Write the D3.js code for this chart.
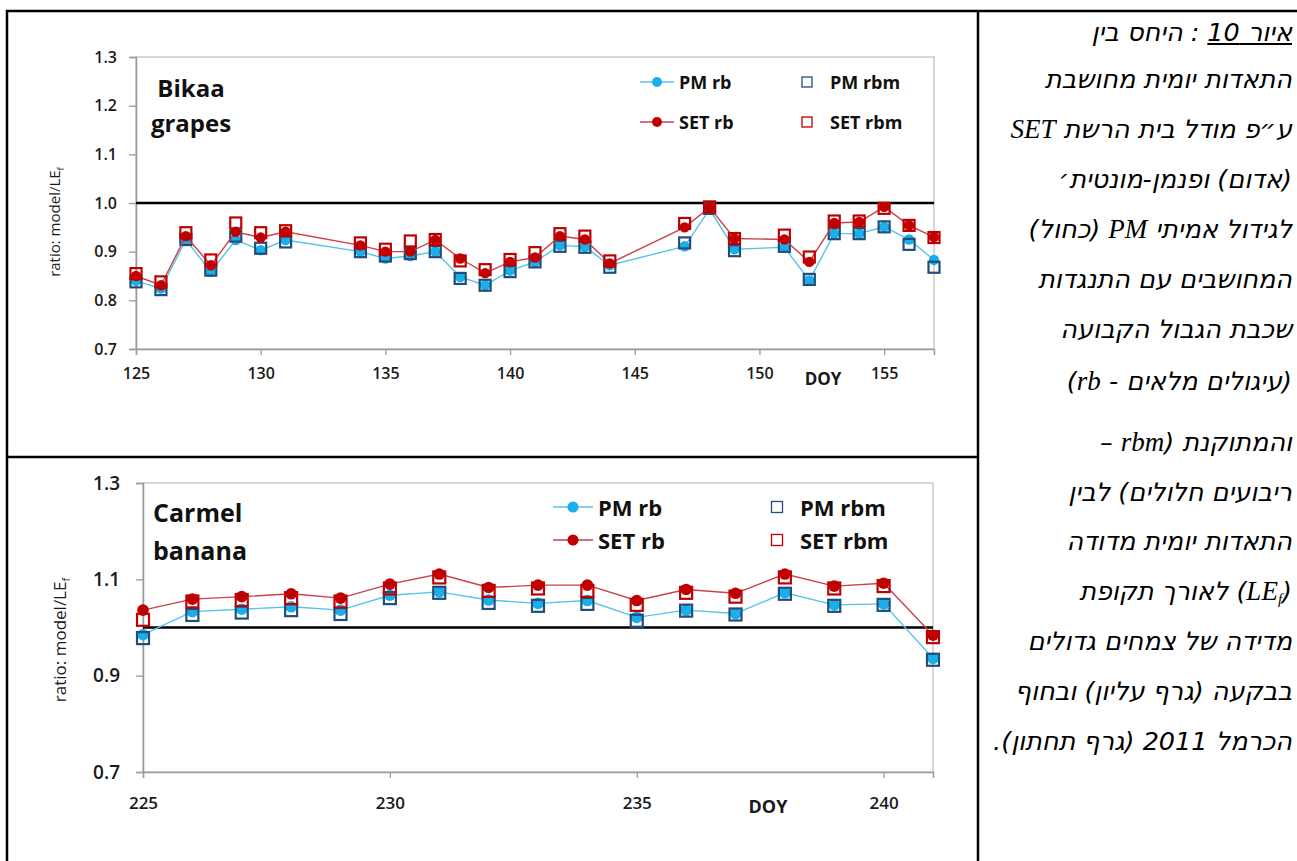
<!DOCTYPE html>
<html>
<head>
<meta charset="utf-8">
<script src="https://cdn.jsdelivr.net/npm/d3@7"></script>
<style>
  html, body { margin: 0; padding: 0; background: #fff; }
  #wrap { position: relative; width: 1297px; height: 861px; overflow: hidden; }
  svg { position: absolute; left: 0; top: 0; }
  .heb { position: absolute; right: 5px; width: 305px; direction: rtl; text-align: right;
         font-family: "DejaVu Sans", sans-serif; font-style: oblique; font-size: 25.5px;
         line-height: 32px; white-space: nowrap; color: #000; }
  .heb .lat { font-family: "Liberation Serif", serif; font-style: italic; font-size: 27px; }
  .heb sub { font-size: 15px; vertical-align: -4px; line-height: 0; }
</style>
</head>
<body>
<div id="wrap"></div>
<script>
// ---------------- DATA ----------------
const bikaaDays = [125,126,127,128,129,130,131,134,135,136,137,138,139,140,141,142,143,144,147,148,149,151,152,153,154,155,156,157];
const bikaaPMrb   = [0.840,0.824,0.924,0.859,0.924,0.903,0.924,0.900,0.886,0.891,0.900,0.848,0.831,0.861,0.879,0.913,0.910,0.872,0.911,0.987,0.905,0.909,0.841,0.937,0.937,0.951,0.925,0.883];
const bikaaPMrbm  = [0.838,0.822,0.925,0.862,0.932,0.907,0.920,0.900,0.891,0.896,0.900,0.845,0.831,0.859,0.879,0.911,0.909,0.868,0.918,0.989,0.902,0.911,0.843,0.937,0.937,0.951,0.915,0.868];
const bikaaSETrb  = [0.850,0.831,0.932,0.872,0.941,0.929,0.941,0.913,0.900,0.900,0.924,0.886,0.856,0.879,0.888,0.932,0.925,0.876,0.950,0.991,0.927,0.925,0.879,0.959,0.961,0.992,0.954,0.930];
const bikaaSETrbm = [0.855,0.838,0.939,0.883,0.959,0.939,0.943,0.918,0.905,0.922,0.925,0.881,0.863,0.884,0.898,0.937,0.932,0.881,0.958,0.992,0.927,0.934,0.889,0.963,0.963,0.989,0.954,0.929];
const bikaaXTicks = [125,130,135,140,145,150,155];
const bikaaYTicks = [0.7,0.8,0.9,1.0,1.1,1.2,1.3];

const carmelDays = [225,226,227,228,229,230,231,232,233,234,235,236,237,238,239,240,241];
const carmelPMrb   = [0.985,1.033,1.038,1.043,1.036,1.067,1.074,1.057,1.050,1.056,1.021,1.036,1.029,1.072,1.047,1.049,0.936];
const carmelPMrbm  = [0.978,1.026,1.031,1.036,1.028,1.061,1.072,1.051,1.045,1.049,1.014,1.035,1.027,1.070,1.045,1.047,0.933];
const carmelSETrb  = [1.036,1.059,1.064,1.070,1.061,1.090,1.111,1.083,1.088,1.088,1.056,1.079,1.071,1.111,1.086,1.092,0.984];
const carmelSETrbm = [1.016,1.054,1.057,1.061,1.054,1.081,1.104,1.076,1.081,1.076,1.047,1.072,1.064,1.104,1.081,1.086,0.980];
const carmelXTicks = [225,230,235,240];
const carmelYTicks = [0.7,0.9,1.1,1.3];

const legendLabels = ["PM rb","SET rb","PM rbm","SET rbm"];
const referenceValue = 1.0;

const captionLines = [
  '<u>איור 10</u> : היחס בין',
  'התאדות יומית מחושבת',
  'ע״פ מודל בית הרשת <span class="lat">SET</span>',
  '(אדום) ופנמן-מונטית׳',
  'לגידול אמיתי <span class="lat">PM</span> (כחול)',
  'המחושבים עם התנגדות',
  'שכבת הגבול הקבועה',
  '(עיגולים מלאים - <span class="lat">rb</span>)',
  'והמתוקנת (<span class="lat">rbm</span> –',
  'ריבועים חלולים) לבין',
  'התאדות יומית מדודה',
  '(<span class="lat">LE<sub>f</sub></span>) לאורך תקופת',
  'מדידה של צמחים גדולים',
  'בבקעה (גרף עליון) ובחוף',
  'הכרמל 2011 (גרף תחתון).'
];
const captionY = [32,79,129,179,229,279,329,381,442,492,541,591,641,691,741];

// ---------------- STYLE ----------------
const C = {
  pmLine: "#55c4ea", pmDot: "#1aaeea", pmSq: "#1f4e79",
  setLine: "#c9414a", setDot: "#c00000", setSq: "#c00000",
  axis: "#9a9a9a", text: "#1a1a1a"
};
const FONT = "'Open Sans', 'Liberation Sans', sans-serif";

const W = 1297, H = 861;
const wrap = d3.select("#wrap");
const svg = wrap.append("svg").attr("width", W).attr("height", H);

// table borders
const border = svg.append("g").attr("stroke", "#000").attr("stroke-width", 2.5);
border.append("line").attr("x1", 6).attr("x2", W).attr("y1", 11).attr("y2", 11);
border.append("line").attr("x1", 7).attr("x2", 7).attr("y1", 10).attr("y2", H);
border.append("line").attr("x1", 978).attr("x2", 978).attr("y1", 10).attr("y2", H);
border.append("line").attr("x1", 7).attr("x2", 978).attr("y1", 457).attr("y2", 457);

function panel(cfg) {
  const g = svg.append("g");
  const x = d3.scaleLinear().domain(cfg.xDomain).range([cfg.left, cfg.right]);
  const y = d3.scaleLinear().domain([0.7, 1.3]).range([cfg.bottom, cfg.top]);

  g.append("rect").attr("x", cfg.left).attr("y", cfg.top)
    .attr("width", cfg.right - cfg.left).attr("height", cfg.bottom - cfg.top)
    .attr("fill", "none").attr("stroke", "#bdbdbd").attr("stroke-width", 1.2);

  const ya = g.append("g").attr("transform", `translate(${cfg.left},0)`)
    .call(d3.axisLeft(y).tickValues(cfg.yTicks).tickSize(7).tickPadding(cfg.yPad).tickFormat(d3.format(".1f")));
  ya.select(".domain").attr("stroke", C.axis).attr("stroke-width", 1.5);
  ya.selectAll(".tick line").attr("stroke", C.axis).attr("stroke-width", 1.3);
  ya.selectAll("text").attr("font-family", FONT).attr("font-size", cfg.tickFs).attr("font-weight", 600).attr("fill", C.text);

  const xa = g.append("g").attr("transform", `translate(0,${cfg.bottom})`)
    .call(d3.axisBottom(x).tickValues(cfg.xTicks).tickSize(6).tickFormat(d3.format("d")));
  xa.select(".domain").attr("stroke", C.axis).attr("stroke-width", 1.5);
  xa.selectAll(".tick line").attr("stroke", C.axis).attr("stroke-width", 1.3);
  xa.selectAll("text").attr("font-family", FONT).attr("font-size", cfg.xTickFs).attr("font-weight", 600)
    .attr("fill", C.text).attr("dy", null).attr("y", cfg.xLabOff).attr("dominant-baseline", "central");

  g.append("line").attr("x1", cfg.left).attr("x2", cfg.right)
    .attr("y1", y(referenceValue)).attr("y2", y(referenceValue))
    .attr("stroke", "#000").attr("stroke-width", 2.6);

  const line = d3.line().x(d => x(d[0])).y(d => y(d[1]));
  const zipped = arr => cfg.days.map((d, i) => [d, arr[i]]);

  g.append("path").attr("d", line(zipped(cfg.pmrb))).attr("fill", "none").attr("stroke", C.pmLine).attr("stroke-width", 1.4);
  g.append("g").selectAll("circle").data(zipped(cfg.pmrb)).join("circle")
    .attr("cx", d => x(d[0])).attr("cy", d => y(d[1])).attr("r", cfg.r).attr("fill", C.pmDot);
  g.append("g").selectAll("rect").data(zipped(cfg.pmrbm)).join("rect")
    .attr("x", d => x(d[0]) - cfg.sq / 2).attr("y", d => y(d[1]) - cfg.sq / 2)
    .attr("width", cfg.sq).attr("height", cfg.sq).attr("fill", "none").attr("stroke", C.pmSq).attr("stroke-width", 2.2);
  g.append("path").attr("d", line(zipped(cfg.setrb))).attr("fill", "none").attr("stroke", C.setLine).attr("stroke-width", 1.4);
  g.append("g").selectAll("circle").data(zipped(cfg.setrb)).join("circle")
    .attr("cx", d => x(d[0])).attr("cy", d => y(d[1])).attr("r", cfg.r).attr("fill", C.setDot);
  g.append("g").selectAll("rect").data(zipped(cfg.setrbm)).join("rect")
    .attr("x", d => x(d[0]) - cfg.sq / 2).attr("y", d => y(d[1]) - cfg.sq / 2)
    .attr("width", cfg.sq).attr("height", cfg.sq).attr("fill", "none").attr("stroke", C.setSq).attr("stroke-width", 2.2);

  const at = g.append("text").attr("transform", `translate(${cfg.ytX},${cfg.ytY}) rotate(-90)`)
    .attr("text-anchor", "middle").attr("font-family", FONT).attr("font-size", cfg.ytFs).attr("fill", C.text);
  at.append("tspan").text("ratio: model/LE");
  at.append("tspan").attr("font-size", cfg.ytFs * 0.65).attr("dy", cfg.ytFs * 0.25).text("f");

  g.append("text").attr("x", cfg.doyX).attr("y", cfg.doyY).attr("text-anchor", "middle")
    .attr("dominant-baseline", "central").attr("font-family", FONT).attr("font-weight", 700)
    .attr("font-size", cfg.doyFs).attr("fill", C.text).text("DOY");

  cfg.title.forEach((t, i) => {
    g.append("text").attr("x", cfg.titleX).attr("y", cfg.titleY[i]).attr("text-anchor", cfg.titleAnchor)
      .attr("dominant-baseline", "central").attr("font-family", FONT).attr("font-weight", 700)
      .attr("font-size", cfg.titleFs).attr("fill", "#111").text(t);
  });

  const L = cfg.leg;
  const lg = g.append("g").attr("font-family", FONT).attr("font-weight", 700).attr("font-size", L.fs).attr("fill", "#111");
  [[C.pmLine, C.pmDot], [C.setLine, C.setDot]].forEach((c, i) => {
    const yy = L.rows[i];
    lg.append("line").attr("x1", L.lx0).attr("x2", L.lx1).attr("y1", yy).attr("y2", yy).attr("stroke", c[0]).attr("stroke-width", 1.4);
    lg.append("circle").attr("cx", (L.lx0 + L.lx1) / 2).attr("cy", yy).attr("r", cfg.r * 0.95).attr("fill", c[1]);
    lg.append("text").attr("x", L.tx).attr("y", yy).attr("dominant-baseline", "central").text(legendLabels[i]);
  });
  [C.pmSq, C.setSq].forEach((c, i) => {
    const yy = L.rows[i];
    lg.append("rect").attr("x", L.sx - L.ss / 2).attr("y", yy - L.ss / 2).attr("width", L.ss).attr("height", L.ss)
      .attr("fill", "#fff").attr("stroke", c).attr("stroke-width", 1.3);
    lg.append("text").attr("x", L.stx).attr("y", yy).attr("dominant-baseline", "central").text(legendLabels[i + 2]);
  });
}

panel({
  days: bikaaDays, pmrb: bikaaPMrb, pmrbm: bikaaPMrbm, setrb: bikaaSETrb, setrbm: bikaaSETrbm,
  xDomain: [125, 157], xTicks: bikaaXTicks, yTicks: bikaaYTicks,
  left: 136, right: 934, top: 57, bottom: 349,
  yPad: 12, tickFs: 16, xTickFs: 16, xLabOff: 24,
  r: 5.2, sq: 11,
  ytX: 60, ytY: 222, ytFs: 15,
  doyX: 823, doyY: 378, doyFs: 17,
  title: ["Bikaa", "grapes"], titleX: 191, titleY: [87, 122], titleAnchor: "middle", titleFs: 24,
  leg: { fs: 18, rows: [82, 122], lx0: 640, lx1: 674, tx: 679, sx: 807, ss: 10, stx: 830 }
});

panel({
  days: carmelDays, pmrb: carmelPMrb, pmrbm: carmelPMrbm, setrb: carmelSETrb, setrbm: carmelSETrbm,
  xDomain: [225, 241], xTicks: carmelXTicks, yTicks: carmelYTicks,
  left: 143, right: 933, top: 483, bottom: 772,
  yPad: 16, tickFs: 19, xTickFs: 17, xLabOff: 30,
  r: 5.8, sq: 12,
  ytX: 66, ytY: 640, ytFs: 17,
  doyX: 768, doyY: 806, doyFs: 18,
  title: ["Carmel", "banana"], titleX: 153, titleY: [512, 550], titleAnchor: "start", titleFs: 25,
  leg: { fs: 22, rows: [507, 540], lx0: 553, lx1: 593, tx: 598, sx: 777, ss: 11, stx: 800 }
});

captionLines.forEach((t, i) => {
  wrap.append("div").attr("class", "heb").style("top", (captionY[i] - 16) + "px").html(t);
});
</script>
</body>
</html>
